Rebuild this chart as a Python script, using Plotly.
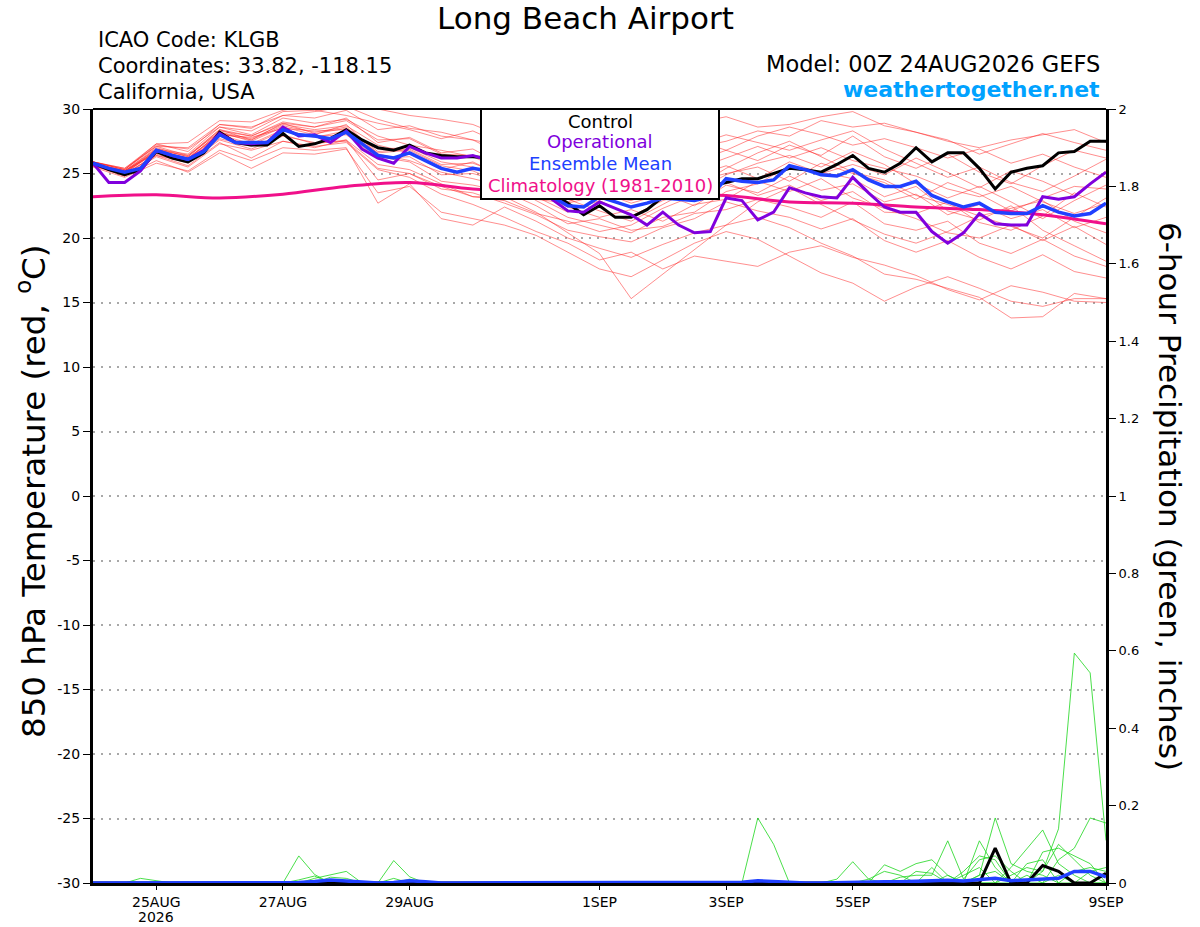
import pandas as pd
import plotly.graph_objects as go

# %%
# time axes (GEFS run 00Z 24AUG2026)
times_6h = pd.date_range("2026-08-24", periods=65, freq="6h")
times_12h = pd.date_range("2026-08-24", periods=33, freq="12h")
times_24h = pd.date_range("2026-08-24", periods=17, freq="D")

# 850 hPa temperature, C (6-hourly)
control = [25.8, 25.3, 24.9, 25.3, 26.7, 26.2, 25.9, 26.6, 28.2, 27.4, 27.2, 27.2, 28.1,
           27.1, 27.3, 27.7, 28.4, 27.6, 27.0, 26.8, 27.2, 26.6, 26.4, 26.3, 26.3, 26.2,
           25.8, 25.0, 24.4, 23.5, 22.7, 21.8, 22.5, 21.6, 21.6, 22.2, 23.2, 23.6, 23.8,
           24.0, 24.3, 24.6, 24.6, 25.0, 25.4, 25.3, 25.1, 25.7, 26.4, 25.4, 25.1, 25.8,
           27.0, 25.9, 26.6, 26.6, 25.4, 23.8, 25.1, 25.4, 25.6, 26.6, 26.7, 27.5, 27.5]
operational = [25.8, 24.3, 24.3, 25.2, 26.8, 26.4, 26.1, 26.8, 28.1, 27.4, 27.3, 27.4, 28.6,
               27.9, 28.0, 27.4, 28.3, 26.9, 26.2, 25.8, 27.1, 26.6, 26.2, 26.2, 26.4, 26.0,
               25.5, 24.8, 24.0, 23.0, 22.1, 22.0, 22.8, 22.3, 21.8, 21.0, 22.0, 21.0, 20.4,
               20.5, 23.1, 22.9, 21.4, 22.0, 23.9, 23.5, 23.2, 23.1, 24.7, 23.5, 22.4, 22.0,
               22.0, 20.5, 19.6, 20.4, 21.9, 21.1, 21.0, 21.0, 23.2, 23.0, 23.2, 24.2, 25.1]
ens_mean = [25.8, 25.4, 25.1, 25.4, 26.8, 26.4, 26.1, 26.7, 28.0, 27.4, 27.4, 27.4, 28.4,
            28.0, 27.9, 27.7, 28.2, 27.3, 26.4, 26.2, 26.6, 26.0, 25.4, 25.1, 25.4, 25.2,
            24.8, 24.3, 23.8, 23.2, 22.5, 22.4, 23.2, 22.8, 22.4, 22.7, 23.1, 23.0, 22.9,
            23.2, 24.6, 24.4, 24.3, 24.5, 25.6, 25.3, 24.9, 24.8, 25.3, 24.5, 24.0, 24.0,
            24.4, 23.3, 22.8, 22.4, 22.7, 22.0, 21.9, 21.9, 22.5, 22.0, 21.7, 21.9, 22.7]
# daily climatology 1981-2010
climatology = [23.2, 23.35, 23.1, 23.4, 24.0, 24.3, 23.8, 23.6, 23.5, 23.4, 23.3, 22.8,
               22.7, 22.4, 22.2, 21.8, 21.1]

# ensemble members (12-hourly)
members = [
    [25.9, 25.3, 27.3, 27.4, 29.1, 29.0, 29.9, 30.3, 30.5, 30.0, 29.5, 29.2, 28.8, 27.8, 27.2, 26.7, 26.0,
     26.6, 27.8, 28.9, 29.4, 28.6, 28.8, 29.4, 29.8, 28.7, 28.2, 27.5, 27.0, 27.6, 28.0, 28.4, 27.4],
    [25.7, 24.8, 26.0, 25.1, 26.6, 25.4, 26.6, 26.5, 26.9, 23.5, 24.0, 22.0, 21.5, 21.0, 20.2, 18.9, 17.6,
     17.0, 18.3, 19.6, 20.5, 19.9, 18.6, 17.3, 16.5, 15.1, 16.2, 17.0, 16.1, 15.1, 14.7, 15.3, 15.3],
    [25.8, 25.2, 26.9, 26.3, 28.3, 27.9, 29.0, 28.6, 29.3, 27.4, 27.8, 26.6, 26.9, 25.6, 24.4, 23.0, 22.1,
     21.3, 22.6, 23.9, 25.4, 26.6, 27.5, 26.3, 25.1, 24.5, 23.3, 22.6, 21.7, 20.9, 20.0, 21.6, 23.1],
    [25.6, 25.0, 26.4, 25.6, 27.4, 26.2, 27.5, 27.0, 27.6, 24.5, 25.0, 24.0, 23.2, 23.2, 22.0, 20.4, 18.8,
     15.3, 17.2, 19.1, 21.0, 22.8, 23.9, 22.6, 21.4, 20.3, 19.6, 20.5, 21.7, 22.3, 22.9, 21.3, 20.4],
    [25.9, 25.4, 27.1, 27.0, 28.8, 28.6, 29.5, 29.8, 30.2, 29.2, 28.5, 28.2, 27.6, 26.4, 26.0, 25.6, 25.8,
     25.0, 25.9, 27.2, 28.0, 27.4, 26.8, 27.6, 28.3, 26.9, 25.8, 24.7, 25.5, 24.3, 23.6, 24.8, 26.1],
    [25.5, 24.7, 25.8, 25.2, 26.8, 26.0, 27.0, 26.8, 27.0, 22.7, 24.2, 21.5, 21.0, 22.4, 21.3, 20.0, 19.2,
     18.5, 19.5, 20.4, 21.0, 21.6, 20.8, 19.6, 18.6, 17.2, 16.8, 16.1, 15.4, 13.8, 13.9, 15.7, 15.3],
    [25.8, 25.1, 26.8, 26.2, 28.1, 27.6, 28.7, 28.2, 28.6, 26.7, 26.9, 25.7, 25.8, 24.9, 23.7, 22.8, 23.6,
     22.7, 23.4, 22.5, 24.1, 23.5, 24.8, 23.7, 24.2, 22.8, 23.4, 21.8, 22.6, 21.5, 22.2, 20.8, 21.6],
    [25.7, 25.2, 26.7, 26.0, 27.9, 27.2, 28.3, 27.9, 28.0, 26.2, 26.3, 24.9, 25.0, 24.3, 22.9, 21.6, 21.0,
     20.4, 21.6, 22.0, 23.6, 24.2, 25.6, 25.1, 24.6, 23.2, 24.0, 22.1, 21.4, 22.5, 20.6, 19.4, 18.2],
    [25.9, 25.3, 27.1, 26.4, 28.4, 27.9, 28.9, 28.6, 29.1, 27.6, 27.7, 26.5, 26.4, 25.8, 24.8, 23.4, 24.5,
     23.6, 24.8, 25.9, 26.8, 26.0, 27.2, 26.4, 27.9, 26.3, 25.4, 26.5, 25.1, 24.2, 25.6, 26.8, 26.2],
    [25.6, 24.9, 26.5, 25.8, 27.6, 26.9, 27.9, 27.4, 27.5, 25.4, 25.0, 23.8, 23.5, 22.7, 21.8, 20.6, 20.1,
     19.7, 20.8, 21.5, 22.8, 22.1, 21.6, 20.7, 21.5, 19.8, 18.9, 19.8, 18.5, 17.6, 18.7, 17.4, 16.9],
    [25.8, 25.0, 26.7, 26.1, 28.2, 27.5, 28.6, 28.0, 28.8, 26.5, 26.0, 25.1, 24.6, 24.0, 23.2, 22.0, 22.9,
     21.7, 22.9, 23.6, 24.9, 25.8, 26.4, 25.5, 26.7, 25.7, 24.2, 23.1, 24.0, 22.8, 21.5, 22.9, 24.1],
    [25.7, 25.1, 26.9, 26.5, 28.6, 28.0, 29.3, 28.9, 29.2, 27.9, 27.2, 26.8, 26.3, 25.2, 24.6, 23.9, 24.3,
     23.1, 24.2, 24.8, 25.6, 24.6, 25.9, 25.0, 25.7, 24.9, 26.2, 25.1, 23.9, 25.2, 24.4, 23.3, 25.2],
    [25.8, 25.2, 26.6, 26.2, 28.0, 27.8, 28.5, 28.3, 28.4, 26.9, 27.0, 25.9, 25.5, 24.5, 23.5, 22.4, 21.6,
     22.2, 21.3, 22.6, 23.0, 24.4, 23.6, 24.6, 23.1, 22.3, 21.5, 20.4, 20.0, 21.0, 19.8, 20.9, 19.5],
    [25.9, 25.4, 27.3, 26.7, 28.8, 28.5, 29.8, 29.9, 29.5, 28.9, 28.4, 27.7, 28.3, 27.2, 26.6, 26.1, 25.5,
     26.4, 27.1, 27.6, 26.8, 27.9, 28.6, 28.0, 27.2, 27.7, 27.0, 26.2, 26.9, 25.8, 26.5, 25.5, 24.7],
    [25.6, 24.8, 26.3, 25.5, 27.3, 26.8, 27.5, 27.1, 27.4, 25.3, 24.7, 23.4, 22.6, 21.6, 20.5, 19.6, 18.3,
     18.9, 17.6, 18.6, 18.2, 17.8, 18.9, 19.4, 18.5, 17.9, 17.1, 16.0, 15.2, 16.3, 15.8, 15.1, 15.0],
    [25.7, 25.0, 26.8, 26.4, 28.2, 27.7, 28.8, 28.4, 28.7, 27.2, 26.6, 25.3, 25.9, 24.7, 24.1, 23.1, 23.9,
     23.0, 24.5, 25.3, 26.2, 27.1, 26.2, 27.0, 26.0, 25.4, 24.8, 23.8, 23.2, 24.0, 22.8, 21.9, 22.7],
    [25.8, 25.2, 27.0, 26.3, 28.4, 27.6, 28.9, 28.1, 28.5, 26.3, 25.9, 24.4, 24.1, 23.6, 22.5, 21.1, 21.5,
     20.6, 20.9, 21.9, 22.2, 23.0, 22.4, 21.6, 22.8, 21.1, 20.6, 21.3, 19.6, 18.8, 19.9, 18.6, 17.8],
    [25.9, 25.3, 27.2, 26.9, 28.6, 28.3, 29.5, 29.3, 29.9, 28.4, 28.7, 27.9, 27.6, 27.1, 26.3, 25.2, 26.7,
     25.9, 26.5, 27.0, 27.5, 28.3, 27.9, 29.1, 28.6, 28.9, 28.2, 27.6, 26.5, 27.3, 28.1, 27.4, 26.8],
    [25.6, 24.9, 26.4, 25.9, 27.7, 27.1, 28.0, 27.3, 27.6, 25.7, 25.3, 24.2, 23.2, 22.9, 21.9, 21.3, 20.5,
     21.0, 22.3, 23.3, 24.3, 23.3, 24.1, 22.9, 23.6, 22.0, 21.9, 22.8, 21.2, 20.6, 21.7, 23.5, 22.4],
    [25.8, 25.1, 26.6, 26.1, 28.0, 27.3, 28.4, 27.8, 28.3, 26.6, 26.8, 25.6, 25.2, 24.2, 23.0, 22.7, 23.3,
     22.9, 23.8, 24.4, 25.0, 25.5, 24.4, 25.8, 25.0, 24.3, 23.0, 24.3, 23.4, 22.1, 23.1, 24.0, 23.8],
]

# 6-hour precipitation, inches (6-hourly)
precip_control = [0, 0, 0, 0, 0, 0, 0, 0, 0, 0, 0, 0, 0, 0, 0.002, 0.004, 0.003, 0, 0, 0, 0, 0,
                  0, 0, 0, 0, 0, 0, 0, 0, 0, 0, 0, 0, 0, 0, 0, 0, 0, 0, 0, 0, 0, 0, 0, 0, 0, 0,
                  0, 0, 0, 0, 0, 0, 0, 0, 0, 0.09, 0, 0, 0.045, 0.03, 0, 0, 0.025]
precip_mean = [0, 0, 0, 0, 0.002, 0, 0, 0, 0, 0, 0, 0, 0, 0.001, 0.004, 0.008, 0.005, 0.002, 0,
               0.001, 0.006, 0.003, 0, 0, 0, 0, 0, 0, 0, 0, 0, 0, 0, 0, 0, 0, 0, 0, 0, 0, 0,
               0.002, 0.006, 0.004, 0.001, 0, 0, 0.001, 0.003, 0.002, 0.003, 0.003, 0.005, 0.006,
               0.007, 0.005, 0.008, 0.012, 0.006, 0.008, 0.012, 0.012, 0.03, 0.03, 0.016]
precip_members = [
    [0, 0, 0, 0.012, 0.006, 0, 0, 0, 0, 0, 0, 0, 0, 0.07, 0.022, 0, 0, 0, 0, 0, 0, 0, 0, 0, 0, 0,
     0, 0, 0, 0, 0, 0, 0, 0, 0, 0, 0, 0, 0, 0, 0, 0, 0.168, 0.10, 0, 0, 0, 0, 0, 0, 0, 0, 0, 0,
     0, 0, 0, 0, 0, 0, 0.03, 0.14, 0.594, 0.543, 0.11],
    [0, 0, 0, 0, 0, 0, 0, 0, 0, 0, 0, 0, 0, 0, 0.012, 0.022, 0.03, 0, 0, 0.058, 0.016, 0, 0, 0, 0,
     0, 0, 0, 0, 0, 0, 0, 0, 0, 0, 0, 0, 0, 0, 0, 0, 0, 0, 0, 0, 0, 0, 0, 0, 0, 0, 0, 0, 0, 0, 0,
     0.109, 0.04, 0, 0, 0, 0.06, 0.09, 0.168, 0.155],
    [0, 0, 0, 0, 0, 0, 0, 0, 0, 0, 0, 0, 0, 0, 0, 0.015, 0.012, 0, 0, 0, 0.01, 0, 0, 0, 0, 0, 0,
     0, 0, 0, 0, 0, 0, 0, 0, 0, 0, 0, 0, 0, 0, 0, 0, 0, 0, 0, 0, 0.01, 0.055, 0.01, 0, 0, 0, 0,
     0, 0, 0.02, 0.168, 0.05, 0.03, 0.02, 0, 0, 0, 0],
    [0, 0, 0, 0, 0, 0, 0, 0, 0, 0, 0, 0, 0, 0.008, 0.018, 0, 0, 0, 0, 0.012, 0, 0, 0, 0, 0, 0, 0,
     0, 0, 0, 0, 0, 0, 0, 0, 0, 0, 0, 0, 0, 0, 0, 0, 0, 0, 0, 0, 0, 0, 0, 0.047, 0.03, 0.05, 0.06,
     0.02, 0, 0, 0, 0.04, 0.09, 0.137, 0.05, 0.02, 0, 0],
    [0, 0, 0, 0, 0, 0, 0, 0, 0, 0, 0, 0, 0, 0, 0, 0, 0, 0, 0, 0, 0, 0, 0, 0, 0, 0, 0, 0, 0, 0, 0,
     0, 0, 0, 0, 0, 0, 0, 0, 0, 0, 0, 0, 0, 0, 0, 0, 0, 0, 0, 0, 0.015, 0.02, 0.02, 0.109, 0.01,
     0.06, 0.07, 0.03, 0, 0.08, 0.09, 0.07, 0.05, 0],
    [0, 0, 0, 0, 0, 0, 0, 0, 0, 0, 0, 0, 0, 0, 0, 0, 0, 0, 0, 0, 0, 0, 0, 0, 0, 0, 0, 0, 0, 0, 0,
     0, 0, 0, 0, 0, 0, 0, 0, 0, 0, 0, 0, 0, 0, 0, 0, 0, 0, 0.01, 0.03, 0.02, 0, 0.04, 0, 0.03,
     0.07, 0.06, 0, 0.05, 0.06, 0, 0.03, 0.04, 0.03],
    [0, 0, 0, 0, 0, 0, 0, 0, 0, 0, 0, 0, 0, 0, 0, 0, 0, 0, 0, 0, 0, 0, 0, 0, 0, 0, 0, 0, 0, 0, 0,
     0, 0, 0, 0, 0, 0, 0, 0, 0, 0, 0, 0, 0, 0, 0, 0, 0, 0, 0, 0, 0, 0.03, 0.025, 0, 0.02, 0.04, 0,
     0.02, 0.04, 0.03, 0.1, 0.06, 0.02, 0],
    [0, 0, 0, 0, 0, 0, 0, 0, 0, 0, 0, 0, 0, 0, 0, 0, 0, 0, 0, 0, 0, 0, 0, 0, 0, 0, 0, 0, 0, 0, 0,
     0, 0, 0, 0, 0, 0, 0, 0, 0, 0, 0, 0, 0, 0, 0, 0, 0, 0, 0, 0, 0, 0, 0, 0.02, 0, 0.02, 0.03, 0,
     0.02, 0, 0.02, 0, 0.03, 0.04],
]

tick_dates = ["2026-08-25", "2026-08-27", "2026-08-29", "2026-09-01", "2026-09-03",
              "2026-09-05", "2026-09-07", "2026-09-09"]
tick_labels = ["25AUG", "27AUG", "29AUG", "1SEP", "3SEP", "5SEP", "7SEP", "9SEP"]
temp_ticks = [-30, -25, -20, -15, -10, -5, 0, 5, 10, 15, 20, 25, 30]
temp_labels = ["-30", "-25", "-20", "-15", "-10", "-5", "0", "5", "10", "15", "20", "25", "30"]

# %%
W, H = 1200, 927
L, R, T, B = 93, 1106, 109, 883
FONT = "DejaVu Sans, Verdana, sans-serif"


def px(x):
    return (x - L) / (R - L)


def py(y):
    return (B - y) / (B - T)


def label(text, x, y, size, color="black", xanchor="center", angle=0):
    fig.add_annotation(text=text, x=px(x), y=py(y), xref="paper", yref="paper",
                       xanchor=xanchor, yanchor="middle", textangle=angle,
                       showarrow=False, font=dict(size=size, color=color, family=FONT))


fig = go.Figure()

for m in members:
    fig.add_trace(go.Scatter(x=times_12h, y=m, mode="lines",
                             line=dict(color="rgba(255,30,30,0.5)", width=1)))
for p in precip_members:
    fig.add_trace(go.Scatter(x=times_6h, y=p, mode="lines", yaxis="y2",
                             line=dict(color="rgba(30,215,30,0.8)", width=1)))
fig.add_trace(go.Scatter(x=times_6h, y=precip_control, mode="lines", yaxis="y2",
                         line=dict(color="black", width=3)))
fig.add_trace(go.Scatter(x=times_6h, y=precip_mean, mode="lines", yaxis="y2",
                         line=dict(color="#2040ff", width=3.5)))

fig.add_trace(go.Scatter(x=times_24h, y=climatology, mode="lines",
                         line=dict(color="#f0108a", width=3, shape="spline")))
fig.add_trace(go.Scatter(x=times_6h, y=control, mode="lines",
                         line=dict(color="black", width=3)))
fig.add_trace(go.Scatter(x=times_6h, y=operational, mode="lines",
                         line=dict(color="#8000dd", width=3)))
fig.add_trace(go.Scatter(x=times_6h, y=ens_mean, mode="lines",
                         line=dict(color="#2040ff", width=3.5)))

fig.update_layout(
    width=W, height=H,
    margin=dict(l=L, r=W - R, t=T, b=H - B, autoexpand=False),
    paper_bgcolor="white", plot_bgcolor="white",
    showlegend=False,
    font=dict(family=FONT, color="black", size=14),
    xaxis=dict(type="date", range=["2026-08-24", "2026-09-09"],
               tickvals=tick_dates, ticktext=tick_labels, automargin=False,
               ticks="outside", ticklen=4, tickcolor="black", layer="above traces",
               showgrid=False, zeroline=False,
               showline=True, linecolor="black", linewidth=3,
               tickfont=dict(size=14)),
    yaxis=dict(range=[-30, 30], tickvals=temp_ticks, ticktext=temp_labels, automargin=False,
               ticks="outside", ticklen=7, tickcolor="black", layer="above traces",
               showgrid=True, gridcolor="#a8a8a8", griddash="2px,6px", gridwidth=1.5,
               zeroline=False, showline=True, linecolor="black", linewidth=3,
               tickfont=dict(size=14)),
    yaxis2=dict(range=[0, 2], dtick=0.2, overlaying="y", side="right", automargin=False,
                ticks="outside", ticklen=7, tickcolor="black", layer="above traces",
                showgrid=False, zeroline=False, showline=True, linecolor="black",
                linewidth=3, tickfont=dict(size=13)),
)

# year under the first date tick
fig.add_annotation(text="2026", x=tick_dates[0], y=py(917), xref="x", yref="paper",
                   yanchor="middle", showarrow=False, font=dict(size=14, family=FONT))

# top border of the plot box
fig.add_shape(type="line", xref="paper", yref="paper", x0=0, x1=1, y0=1, y1=1,
              line=dict(color="black", width=2))

# legend box
fig.add_shape(type="rect", xref="paper", yref="paper", layer="above",
              x0=px(481), x1=px(719), y0=py(199), y1=py(109),
              fillcolor="white", line=dict(color="black", width=2))
legend_items = [("Control", "black", 121), ("Operational", "#8000dd", 142),
                ("Ensemble Mean", "#2040ff", 163), ("Climatology (1981-2010)", "#f0108a", 185)]
for text, color, y in legend_items:
    label(text, 600, y, 18, color)

# header texts
label("Long Beach Airport", 585, 18, 31)
for text, y in [("ICAO Code: KLGB", 40), ("Coordinates: 33.82, -118.15", 66),
                ("California, USA", 92)]:
    label(text, 96, y, 21, xanchor="left")
label("Model: 00Z 24AUG2026 GEFS", 1102, 64, 22.5, xanchor="right")
label("<b>weathertogether.net</b>", 1102, 89, 22, color="#00a2ff", xanchor="right")

# axis titles
label("850 hPa Temperature (red, <sup>o</sup>C)", 32, 492, 32.5, angle=-90)
label("6-hour Precipitation (green, inches)", 1170, 496, 31, angle=90)

fig.write_html("out.html", config={"displayModeBar": False},
               post_script="document.body.style.margin='0';")
